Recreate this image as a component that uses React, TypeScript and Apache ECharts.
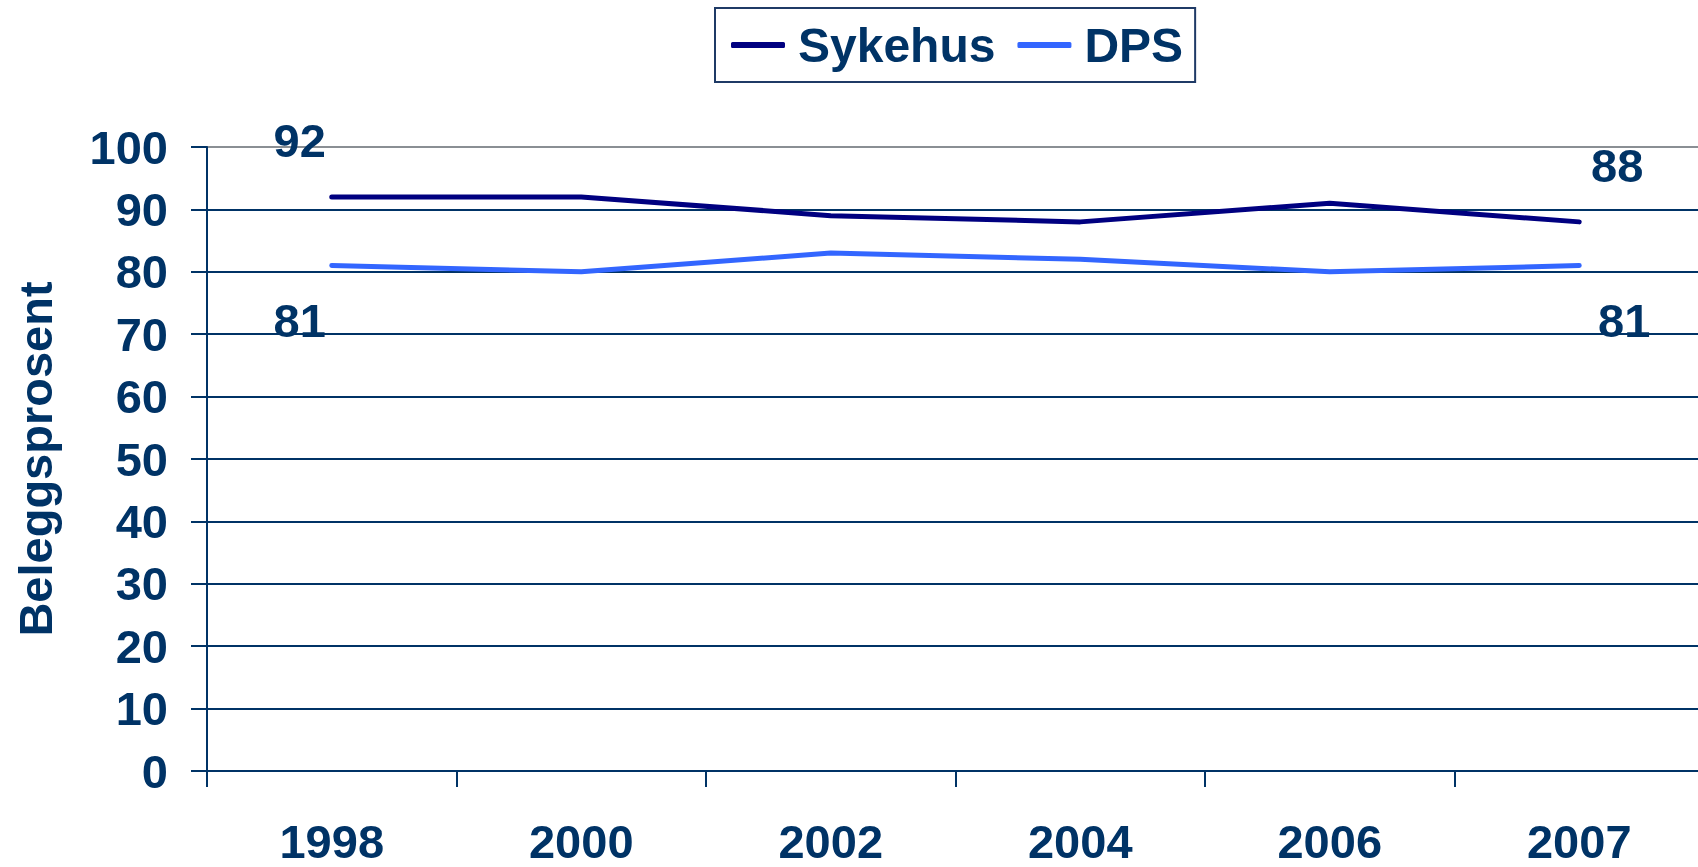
import React, { useEffect, useRef } from "react";
import * as echarts from "echarts";

const years = ["1998", "2000", "2002", "2004", "2006", "2007"];
const sykehus = [92, 92, 89, 88, 91, 88];
const dps = [81, 80, 83, 82, 80, 81];
const yTicks = { min: 0, max: 100, interval: 10 };

const NAVY = "#003366";
const C_SYK = "#000080";
const C_DPS = "#3366ff";
const FONT = "'Liberation Sans', Arial, sans-serif";

export default function App() {
  const ref = useRef<HTMLDivElement>(null);
  useEffect(() => {
    if (!ref.current) return;
    const chart = echarts.init(ref.current, null, { renderer: "svg" });
    const lastIdx = years.length - 1;
    const mkData = (vals: number[], firstOff: number[], lastOff: number[]) =>
      vals.map((v, i) => {
        if (i === 0 || i === lastIdx) {
          const off = i === 0 ? firstOff : lastOff;
          return {
            value: v,
            label: {
              show: true,
              position: "inside",
              offset: off,
              formatter: "{c}",
              color: NAVY,
              fontSize: 47,
              fontWeight: "bold",
              fontFamily: FONT,
            },
          };
        }
        return { value: v };
      });
    const gridColors = [...Array(10).fill(NAVY), "#8a8f94"];
    chart.setOption({
      animation: false,
      textStyle: { fontFamily: FONT },
      legend: {
        left: 715,
        top: 8,
        padding: [13, 12, 13, 16],
        itemGap: 22,
        itemWidth: 54,
        itemHeight: 6,
        icon: "roundRect",
        borderColor: "#1f3a66",
        borderWidth: 2,
        textStyle: {
          color: NAVY,
          fontSize: 48,
          fontWeight: "bold",
          fontFamily: FONT,
          padding: [0, 0, 0, 8],
        },
        data: [
          { name: "Sykehus", itemStyle: { color: C_SYK, opacity: 1 } },
          { name: "DPS", itemStyle: { color: C_DPS, opacity: 1 } },
        ],
      },
      grid: {
        left: 207,
        top: 147,
        bottom: 96,
        right: -6,
        containLabel: false,
        outerBoundsMode: "none",
      },
      xAxis: {
        type: "category",
        data: years,
        boundaryGap: true,
        axisLine: { show: true, lineStyle: { color: NAVY, width: 2 } },
        axisTick: { show: true, length: 16, lineStyle: { color: NAVY, width: 2 } },
        axisLabel: {
          color: NAVY,
          fontSize: 47,
          lineHeight: 40,
          fontWeight: "bold",
          fontFamily: FONT,
          margin: 50,
        },
        splitLine: { show: false },
      },
      yAxis: {
        type: "value",
        min: yTicks.min,
        max: yTicks.max,
        interval: yTicks.interval,
        name: "Beleggsprosent",
        nameLocation: "middle",
        nameGap: 148,
        nameRotate: 90,
        nameTextStyle: {
          color: NAVY,
          fontSize: 47,
          fontWeight: "bold",
          fontFamily: FONT,
        },
        axisLine: { show: true, lineStyle: { color: NAVY, width: 2 } },
        axisTick: { show: true, length: 16, lineStyle: { color: NAVY, width: 2 } },
        axisLabel: {
          color: NAVY,
          fontSize: 47,
          fontWeight: "bold",
          fontFamily: FONT,
          margin: 39,
        },
        splitLine: { show: true, lineStyle: { color: gridColors, width: 2 } },
      },
      series: [
        {
          name: "Sykehus",
          type: "line",
          data: mkData(sykehus, [-32, -56], [38, -56]),
          symbol: "circle",
          symbolSize: 1,
          showSymbol: true,
          lineStyle: { color: C_SYK, width: 5, cap: "round" },
          itemStyle: { color: C_SYK },
          z: 3,
        },
        {
          name: "DPS",
          type: "line",
          data: mkData(dps, [-32, 55], [45, 55]),
          symbol: "circle",
          symbolSize: 1,
          showSymbol: true,
          lineStyle: { color: C_DPS, width: 5, cap: "round" },
          itemStyle: { color: C_DPS },
          z: 3,
        },
      ],
    });
    return () => chart.dispose();
  }, []);
  return (
    <div
      ref={ref}
      style={{ position: "fixed", left: 0, top: 0, width: 1698, height: 867 }}
    />
  );
}
